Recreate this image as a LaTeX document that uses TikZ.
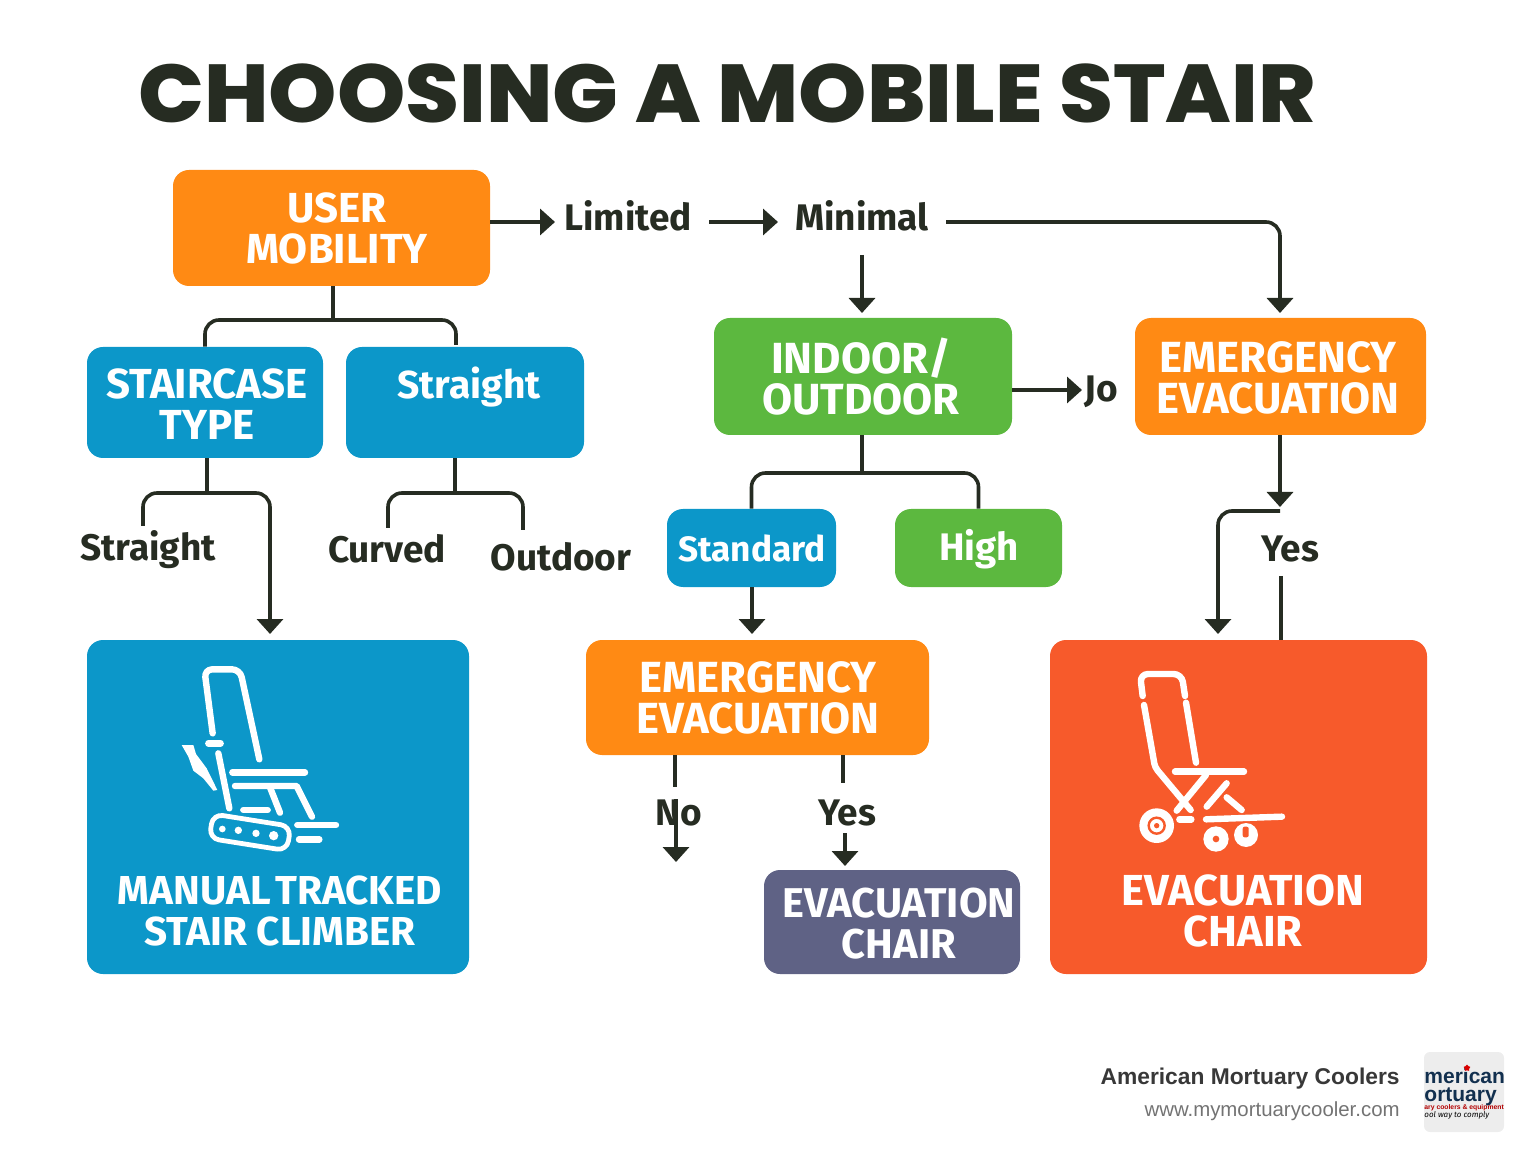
\documentclass[tikz,border=0pt]{standalone}
\usepackage{fontspec}
\setmainfont{Fira Sans}
\newfontfamily\titlefont[FakeStretch=1.06,BoldFont={Poppins ExtraBold}]{Poppins}
\newfontfamily\footfont{Liberation Sans}
\usetikzlibrary{arrows.meta,shapes.geometric}

\definecolor{orangebg}{HTML}{FF8A14}
\definecolor{bluebg}{HTML}{0C97C9}
\definecolor{greenbg}{HTML}{5CB83F}
\definecolor{slatebg}{HTML}{5F6285}
\definecolor{redbg}{HTML}{F75A2B}
\definecolor{inkdark}{HTML}{262C22}
\definecolor{logonavy}{HTML}{12304F}

\tikzset{
  boxnode/.style 2 args={rounded corners=8pt,inner sep=0pt,minimum width=#1*0.5pt,minimum height=#2*0.5pt},
  boxtext/.style={inner sep=0pt,align=center,text=white,font=\fontsize{21}{20.5}\selectfont\bfseries},
  choice/.style={inner sep=0pt,text=inkdark,font=\fontsize{18.5}{20}\selectfont\bfseries},
  conn/.style={draw=inkdark,line width=1.8pt},
  connarrow/.style={conn,-{Triangle[width=13pt,length=7.5pt]}},
  iconline/.style={draw=white,line width=3.2pt,line cap=round,line join=round},
}

\begin{document}
\begin{tikzpicture}[x=0.5pt,y=-0.5pt]
  \useasboundingbox (0,0) rectangle (1536,1154);

  % Title
  \node[inner sep=0pt,text=inkdark,font=\titlefont\fontsize{41}{41}\selectfont\bfseries] (title) at (727,93) {CHOOSING A MOBILE STAIR};

  % Boxes
  \node[boxnode={317}{116},fill=orangebg] (usermob) at (331.5,228) {};
  \node[boxnode={236}{111},fill=bluebg] (stairtype) at (205,402.5) {};
  \node[boxnode={238}{111},fill=bluebg] (straighttop) at (465,402.5) {};
  \node[boxnode={298}{117},fill=greenbg] (indoor) at (863,376.5) {};
  \node[boxnode={291}{117},fill=orangebg] (emergright) at (1280.5,376.5) {};
  \node[boxnode={169}{78},fill=bluebg] (standard) at (751.5,548) {};
  \node[boxnode={167}{78},fill=greenbg] (high) at (978.5,548) {};
  \node[boxnode={343}{115},fill=orangebg] (emergmid) at (757.5,697.5) {};
  \node[boxnode={382}{334},fill=bluebg] (climber) at (278,807) {};
  \node[boxnode={256}{104},fill=slatebg] (evacsmall) at (892,922) {};
  \node[boxnode={377}{334},fill=redbg] (evacchair) at (1238.5,807) {};

  % Box names
  \node[boxtext] (username) at (337,228) {USER\\MOBILITY};
  \node[boxtext] (stairname) at (207,404) {STAIRCASE\\TYPE};
  \node[boxtext,font=\fontsize{19.5}{20}\selectfont\bfseries] (straightname) at (469,387) {Straight};
  \node[boxtext,font=\fontsize{21.8}{20.5}\selectfont\bfseries] (indoorname) at (861,377) {INDOOR/\\OUTDOOR};
  \node[boxtext,font=\fontsize{21.8}{20.5}\selectfont\bfseries] (emergrname) at (1278,378) {EMERGENCY\\EVACUATION};
  \node[boxtext,font=\fontsize{17.6}{20}\selectfont\bfseries] (standardname) at (752,548) {Standard};
  \node[boxtext,font=\fontsize{19.2}{20}\selectfont\bfseries] (highname) at (979,549) {High};
  \node[boxtext,font=\fontsize{21.8}{20.5}\selectfont\bfseries] (emergmname) at (758,698) {EMERGENCY\\EVACUATION};
  \node[boxtext,font=\fontsize{20.2}{20.5}\selectfont\bfseries] (climbername) at (280,911) {\spaceskip=0.12em MANUAL TRACKED\\STAIR CLIMBER};
  \node[boxtext,font=\fontsize{20.8}{20.5}\selectfont\bfseries] (evacsname) at (899,924) {EVACUATION\\CHAIR};
  \node[boxtext,font=\fontsize{21.7}{20.5}\selectfont\bfseries] (evacname) at (1243,911) {EVACUATION\\CHAIR};

  % Words between the boxes
  \node[choice] (limited) at (628,216) {Limited};
  \node[choice] (minimal) at (862,216) {Minimal};
  \node[choice] (straightleft) at (148,550) {Straight};
  \node[choice] (curved) at (387,549) {Curved};
  \node[choice] (outdoor) at (561,557) {Outdoor};
  \node[choice] (jo) at (1101,392) {Jo};
  \node[choice] (yesright) at (1290,549) {Yes};
  \node[choice] (nomid) at (679,813) {No};
  \node[choice] (yesmid) at (847,813) {Yes};

  % Free ends of the connectors
  \coordinate (limitedin) at (555,222);
  \coordinate (limitedout) at (709,222);
  \coordinate (minimalin) at (778,222);
  \coordinate (minimalout) at (946,222);
  \coordinate (minimaldown) at (862,255);
  \coordinate (indoorin) at (862,313);
  \coordinate (emergin) at (1280,313);
  \coordinate (forkuser) at (333,320);
  \coordinate (forkuserr) at (456,345);
  \coordinate (forkstair) at (207,493);
  \coordinate (straightend) at (143,526);
  \coordinate (climberin) at (270,634);
  \coordinate (forkstraight) at (455,493);
  \coordinate (curvedend) at (388,528);
  \coordinate (outdoorend) at (523,530);
  \coordinate (forkindoor) at (862,473);
  \coordinate (join) at (1082,390);
  \coordinate (yesin) at (1280,507);
  \coordinate (yesfork) at (1280,511);
  \coordinate (chairin) at (1218,634);
  \coordinate (yesstub) at (1281,576);
  \coordinate (emergmidin) at (752,634);
  \coordinate (nostub) at (675,787);
  \coordinate (nofrom) at (676,825);
  \coordinate (noend) at (676,862);
  \coordinate (yesmidstub) at (843,783);
  \coordinate (yesfrom) at (845,833);
  \coordinate (yesend) at (845,866);

  % Top row
  \draw[connarrow] (usermob.east |- limitedin) -- (limitedin);
  \draw[connarrow] (limitedout) -- (minimalin);
  \draw[connarrow,rounded corners=7pt] (minimalout) -| (emergin);
  \draw[connarrow] (minimaldown) -- (indoorin);

  % Left forks
  \draw[conn] (forkuser |- usermob.south) -- (forkuser);
  \draw[conn,rounded corners=7pt] (stairtype.north) |- (forkuser) -| (forkuserr);
  \draw[conn] (forkstair |- stairtype.south) -- (forkstair);
  \draw[connarrow,rounded corners=7pt] (straightend) |- (forkstair) -| (climberin);
  \draw[conn] (forkstraight |- straighttop.south) -- (forkstraight);
  \draw[conn,rounded corners=7pt] (curvedend) |- (forkstraight) -| (outdoorend);

  % Middle
  \draw[conn] (forkindoor |- indoor.south) -- (forkindoor);
  \draw[conn,rounded corners=7pt] (standard.north) |- (forkindoor) -| (high.north);
  \draw[connarrow] (indoor.east |- join) -- (join);
  \draw[connarrow] (emergmidin |- standard.south) -- (emergmidin);
  \draw[conn] (nostub |- emergmid.south) -- (nostub);
  \draw[connarrow] (nofrom) -- (noend);
  \draw[conn] (nofrom |- nomid.north) -- (nofrom);
  \draw[conn] (yesmidstub |- emergmid.south) -- (yesmidstub);
  \draw[connarrow] (yesfrom) -- (yesend);

  % Right
  \draw[connarrow] (yesin |- emergright.south) -- (yesin);
  \draw[connarrow,rounded corners=7pt] (yesfork) -| (chairin);
  \draw[conn] (yesstub) -- (yesstub |- evacchair.north);

  % Stair climber icon
  \begin{scope}[shift={(160,650)},scale=1/3]
    \draw[iconline,rounded corners=4pt] (158,250) -- (133,58) -- (240,58) -- (298,328);
    \draw[iconline] (145,280) -- (182,280);
    \draw[iconline] (175,310) -- (208,475);
    \draw[iconline] (217,367) -- (435,367);
    \draw[iconline] (225,408) -- (410,408) -- (456,500);
    \draw[iconline] (330,412) -- (360,488);
    \draw[iconline] (250,480) -- (323,480);
    \draw[iconline,line width=2.4pt,rotate around={-9:(270,547)},rounded corners=5pt] (152,510) rectangle (388,584);
    \fill[white] (187,537) circle (10) (235,541) circle (11) (288,550) circle (11) (341,557) circle (14);
    \draw[iconline] (412,525) -- (528,525);
    \draw[iconline] (417,568) -- (478,568);
    \fill[white] (65,285) -- (100,285) -- (108,312) -- (140,355) -- (172,420) -- (160,422) -- (130,385) -- (100,362) -- (85,320) -- cycle;
  \end{scope}

  % Evacuation chair icon
  \begin{scope}[shift={(1120,660)},scale=1/3]
    \draw[iconline,rounded corners=4pt] (68,108) -- (60,42) -- (185,42) -- (195,108);
    \draw[iconline,rounded corners=2pt] (72,135) -- (105,322) -- (212,450);
    \draw[iconline] (198,128) -- (228,308);
    \draw[iconline] (165,335) -- (372,335);
    \draw[iconline] (258,345) -- (170,452);
    \draw[iconline] (320,370) -- (260,440);
    \draw[iconline] (320,412) -- (365,450);
    \draw[iconline] (178,478) -- (214,478);
    \draw[iconline] (258,478) -- (486,470);
    \fill[white] (110,497) circle (52);
    \draw[redbg,line width=1.2pt] (110,497) circle (24);
    \fill[redbg] (110,497) circle (8);
    \fill[white] (288,537) circle (38);
    \fill[redbg] (288,537) circle (10);
    \fill[white] (378,525) circle (36);
    \fill[redbg,rounded corners=1pt] (368,500) rectangle (386,532);
  \end{scope}

  % Footer
  \node[anchor=east,inner sep=0pt,text=black!78,font=\footfont\fontsize{11.4}{12}\selectfont\bfseries] (company) at (1400,1079) {American Mortuary Coolers};
  \node[anchor=east,inner sep=0pt,text=black!55,font=\footfont\fontsize{10.2}{10.5}\selectfont] (website) at (1400,1111) {www.mymortuarycooler.com};
  \node[minimum width=40pt,minimum height=40pt,inner sep=0pt,rounded corners=3pt,fill=black!7] (logo) at (1464,1092) {};
  \begin{scope}
    \clip (logo.south west) rectangle (logo.north east);
    \node[anchor=base west,inner sep=0pt,text=logonavy,font=\footfont\fontsize{10.5}{10.5}\selectfont\bfseries] (logoa) at (1424,1083) {merican};
    \node[anchor=base west,inner sep=0pt,text=logonavy,font=\footfont\fontsize{10.5}{10.5}\selectfont\bfseries] (logob) at (1424,1101) {ortuary};
    \node[anchor=base west,inner sep=0pt,text=red!70!black,font=\footfont\fontsize{3.4}{3.4}\selectfont\bfseries] (logoc) at (1424,1109) {ary coolers \& equipment};
    \node[anchor=base west,inner sep=0pt,text=black,font=\fontsize{4}{4}\selectfont\itshape] (logod) at (1424,1117) {ool way to comply};
    \node[star,star points=5,fill=red!85!black,inner sep=0pt,minimum size=3.5pt] (logostar) at (1467,1068) {};
  \end{scope}
\end{tikzpicture}
\end{document}
